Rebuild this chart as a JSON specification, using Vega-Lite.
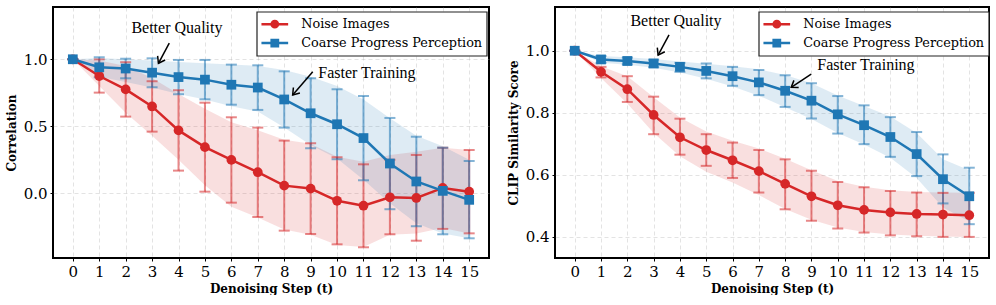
{
  "$schema": "https://vega.github.io/schema/vega-lite/v6.json",
  "padding": {"left": 4, "top": 6, "right": 0, "bottom": 0},
  "background": "white",
  "spacing": 16,
  "datasets": {
    "corr": [
      {"step": 0, "series": "Noise Images", "mean": 1.0, "lo": 1.0, "hi": 1.0, "blo": 1.0, "bhi": 1.0},
      {"step": 1, "series": "Noise Images", "mean": 0.875, "lo": 0.751, "hi": 0.999, "blo": 0.80, "bhi": 0.99},
      {"step": 2, "series": "Noise Images", "mean": 0.775, "lo": 0.572, "hi": 0.978, "blo": 0.60, "bhi": 0.95},
      {"step": 3, "series": "Noise Images", "mean": 0.648, "lo": 0.460, "hi": 0.836, "blo": 0.43, "bhi": 0.86},
      {"step": 4, "series": "Noise Images", "mean": 0.469, "lo": 0.169, "hi": 0.769, "blo": 0.25, "bhi": 0.74},
      {"step": 5, "series": "Noise Images", "mean": 0.344, "lo": 0.012, "hi": 0.676, "blo": 0.06, "bhi": 0.63},
      {"step": 6, "series": "Noise Images", "mean": 0.249, "lo": -0.070, "hi": 0.567, "blo": -0.10, "bhi": 0.53},
      {"step": 7, "series": "Noise Images", "mean": 0.157, "lo": -0.177, "hi": 0.490, "blo": -0.18, "bhi": 0.47},
      {"step": 8, "series": "Noise Images", "mean": 0.057, "lo": -0.279, "hi": 0.393, "blo": -0.27, "bhi": 0.40},
      {"step": 9, "series": "Noise Images", "mean": 0.035, "lo": -0.304, "hi": 0.373, "blo": -0.31, "bhi": 0.37},
      {"step": 10, "series": "Noise Images", "mean": -0.056, "lo": -0.381, "hi": 0.269, "blo": -0.386, "bhi": 0.273},
      {"step": 11, "series": "Noise Images", "mean": -0.093, "lo": -0.403, "hi": 0.216, "blo": -0.40, "bhi": 0.236},
      {"step": 12, "series": "Noise Images", "mean": -0.030, "lo": -0.306, "hi": 0.250, "blo": -0.31, "bhi": 0.286},
      {"step": 13, "series": "Noise Images", "mean": -0.035, "lo": -0.354, "hi": 0.286, "blo": -0.30, "bhi": 0.31},
      {"step": 14, "series": "Noise Images", "mean": 0.040, "lo": -0.266, "hi": 0.340, "blo": -0.26, "bhi": 0.34},
      {"step": 15, "series": "Noise Images", "mean": 0.012, "lo": -0.299, "hi": 0.323, "blo": -0.30, "bhi": 0.323},
      {"step": 0, "series": "Coarse Progress Perception", "mean": 1.0, "lo": 1.0, "hi": 1.0, "blo": 1.0, "bhi": 1.0},
      {"step": 1, "series": "Coarse Progress Perception", "mean": 0.940, "lo": 0.865, "hi": 1.015, "blo": 0.87, "bhi": 1.01},
      {"step": 2, "series": "Coarse Progress Perception", "mean": 0.931, "lo": 0.858, "hi": 1.004, "blo": 0.83, "bhi": 1.00},
      {"step": 3, "series": "Coarse Progress Perception", "mean": 0.900, "lo": 0.791, "hi": 1.007, "blo": 0.79, "bhi": 0.99},
      {"step": 4, "series": "Coarse Progress Perception", "mean": 0.867, "lo": 0.739, "hi": 0.995, "blo": 0.74, "bhi": 0.98},
      {"step": 5, "series": "Coarse Progress Perception", "mean": 0.848, "lo": 0.701, "hi": 0.995, "blo": 0.70, "bhi": 0.97},
      {"step": 6, "series": "Coarse Progress Perception", "mean": 0.810, "lo": 0.661, "hi": 0.960, "blo": 0.65, "bhi": 0.96},
      {"step": 7, "series": "Coarse Progress Perception", "mean": 0.789, "lo": 0.622, "hi": 0.955, "blo": 0.61, "bhi": 0.95},
      {"step": 8, "series": "Coarse Progress Perception", "mean": 0.700, "lo": 0.490, "hi": 0.910, "blo": 0.49, "bhi": 0.92},
      {"step": 9, "series": "Coarse Progress Perception", "mean": 0.597, "lo": 0.336, "hi": 0.858, "blo": 0.36, "bhi": 0.87},
      {"step": 10, "series": "Coarse Progress Perception", "mean": 0.515, "lo": 0.254, "hi": 0.776, "blo": 0.26, "bhi": 0.80},
      {"step": 11, "series": "Coarse Progress Perception", "mean": 0.412, "lo": 0.097, "hi": 0.726, "blo": 0.10, "bhi": 0.70},
      {"step": 12, "series": "Coarse Progress Perception", "mean": 0.222, "lo": -0.119, "hi": 0.562, "blo": -0.075, "bhi": 0.56},
      {"step": 13, "series": "Coarse Progress Perception", "mean": 0.088, "lo": -0.246, "hi": 0.422, "blo": -0.224, "bhi": 0.43},
      {"step": 14, "series": "Coarse Progress Perception", "mean": 0.018, "lo": -0.306, "hi": 0.340, "blo": -0.30, "bhi": 0.35},
      {"step": 15, "series": "Coarse Progress Perception", "mean": -0.049, "lo": -0.336, "hi": 0.241, "blo": -0.336, "bhi": 0.25}
    ],
    "clip": [
      {"step": 0, "series": "Noise Images", "mean": 1.0, "lo": 1.0, "hi": 1.0, "blo": 1.0, "bhi": 1.0},
      {"step": 1, "series": "Noise Images", "mean": 0.932, "lo": 0.914, "hi": 0.948, "blo": 0.912, "bhi": 0.950},
      {"step": 2, "series": "Noise Images", "mean": 0.876, "lo": 0.835, "hi": 0.918, "blo": 0.830, "bhi": 0.918},
      {"step": 3, "series": "Noise Images", "mean": 0.793, "lo": 0.731, "hi": 0.852, "blo": 0.735, "bhi": 0.850},
      {"step": 4, "series": "Noise Images", "mean": 0.721, "lo": 0.665, "hi": 0.781, "blo": 0.660, "bhi": 0.785},
      {"step": 5, "series": "Noise Images", "mean": 0.680, "lo": 0.629, "hi": 0.731, "blo": 0.610, "bhi": 0.740},
      {"step": 6, "series": "Noise Images", "mean": 0.647, "lo": 0.590, "hi": 0.704, "blo": 0.575, "bhi": 0.710},
      {"step": 7, "series": "Noise Images", "mean": 0.612, "lo": 0.543, "hi": 0.680, "blo": 0.535, "bhi": 0.685},
      {"step": 8, "series": "Noise Images", "mean": 0.571, "lo": 0.489, "hi": 0.650, "blo": 0.490, "bhi": 0.652},
      {"step": 9, "series": "Noise Images", "mean": 0.531, "lo": 0.452, "hi": 0.613, "blo": 0.455, "bhi": 0.615},
      {"step": 10, "series": "Noise Images", "mean": 0.502, "lo": 0.427, "hi": 0.577, "blo": 0.430, "bhi": 0.580},
      {"step": 11, "series": "Noise Images", "mean": 0.487, "lo": 0.414, "hi": 0.560, "blo": 0.416, "bhi": 0.562},
      {"step": 12, "series": "Noise Images", "mean": 0.479, "lo": 0.405, "hi": 0.548, "blo": 0.408, "bhi": 0.550},
      {"step": 13, "series": "Noise Images", "mean": 0.474, "lo": 0.402, "hi": 0.543, "blo": 0.404, "bhi": 0.545},
      {"step": 14, "series": "Noise Images", "mean": 0.472, "lo": 0.400, "hi": 0.542, "blo": 0.401, "bhi": 0.543},
      {"step": 15, "series": "Noise Images", "mean": 0.470, "lo": 0.400, "hi": 0.542, "blo": 0.400, "bhi": 0.542},
      {"step": 0, "series": "Coarse Progress Perception", "mean": 1.0, "lo": 1.0, "hi": 1.0, "blo": 1.0, "bhi": 1.0},
      {"step": 1, "series": "Coarse Progress Perception", "mean": 0.972, "lo": 0.961, "hi": 0.983, "blo": 0.961, "bhi": 0.983},
      {"step": 2, "series": "Coarse Progress Perception", "mean": 0.967, "lo": 0.956, "hi": 0.978, "blo": 0.955, "bhi": 0.979},
      {"step": 3, "series": "Coarse Progress Perception", "mean": 0.959, "lo": 0.947, "hi": 0.971, "blo": 0.945, "bhi": 0.973},
      {"step": 4, "series": "Coarse Progress Perception", "mean": 0.948, "lo": 0.932, "hi": 0.961, "blo": 0.930, "bhi": 0.965},
      {"step": 5, "series": "Coarse Progress Perception", "mean": 0.935, "lo": 0.911, "hi": 0.959, "blo": 0.910, "bhi": 0.958},
      {"step": 6, "series": "Coarse Progress Perception", "mean": 0.918, "lo": 0.887, "hi": 0.948, "blo": 0.885, "bhi": 0.950},
      {"step": 7, "series": "Coarse Progress Perception", "mean": 0.898, "lo": 0.857, "hi": 0.938, "blo": 0.855, "bhi": 0.940},
      {"step": 8, "series": "Coarse Progress Perception", "mean": 0.871, "lo": 0.819, "hi": 0.921, "blo": 0.818, "bhi": 0.922},
      {"step": 9, "series": "Coarse Progress Perception", "mean": 0.839, "lo": 0.782, "hi": 0.895, "blo": 0.780, "bhi": 0.895},
      {"step": 10, "series": "Coarse Progress Perception", "mean": 0.795, "lo": 0.733, "hi": 0.854, "blo": 0.735, "bhi": 0.856},
      {"step": 11, "series": "Coarse Progress Perception", "mean": 0.760, "lo": 0.699, "hi": 0.824, "blo": 0.698, "bhi": 0.822},
      {"step": 12, "series": "Coarse Progress Perception", "mean": 0.722, "lo": 0.658, "hi": 0.786, "blo": 0.655, "bhi": 0.788},
      {"step": 13, "series": "Coarse Progress Perception", "mean": 0.667, "lo": 0.596, "hi": 0.738, "blo": 0.590, "bhi": 0.735},
      {"step": 14, "series": "Coarse Progress Perception", "mean": 0.586, "lo": 0.508, "hi": 0.666, "blo": 0.495, "bhi": 0.650},
      {"step": 15, "series": "Coarse Progress Perception", "mean": 0.531, "lo": 0.441, "hi": 0.623, "blo": 0.450, "bhi": 0.615}
    ],
    "ann_corr": [
      {"label": "Better Quality", "tx": 3.94, "ty": 1.23, "x0": 3.65, "y0": 1.12, "x1": 3.24, "y1": 0.97},
      {"label": "Faster Training", "tx": 11.13, "ty": 0.90, "x0": 9.08, "y0": 0.907, "x1": 8.32, "y1": 0.734}
    ],
    "ann_clip": [
      {"label": "Better Quality", "tx": 3.85, "ty": 1.097, "x0": 3.585, "y0": 1.051, "x1": 3.17, "y1": 0.986},
      {"label": "Faster Training", "tx": 11.07, "ty": 0.954, "x0": 8.99, "y0": 0.925, "x1": 8.23, "y1": 0.882}
    ]
  },
  "hconcat": [
    {
      "width": 436,
      "height": 251,
      "layer": [
        {
          "data": {"name": "corr"},
          "mark": {"type": "point", "filled": false, "opacity": 0},
          "encoding": {
            "x": {"field": "step", "type": "quantitative", "scale": {"domain": [-0.75, 15.75], "nice": false, "zero": false},
              "axis": {"title": "Denoising Step (t)", "values": [0,1,2,3,4,5,6,7,8,9,10,11,12,13,14,15], "tickCount": 16, "format": ".0f", "labelOverlap": false, "labelSeparation": 0, "labelFlush": false, "labelAngle": 0,
                "labelFont": "DejaVu Serif", "labelFontSize": 15, "labelColor": "black", "labelPadding": 3,
                "titleFont": "DejaVu Serif", "titleFontSize": 12, "titleFontWeight": "bold", "titleColor": "black", "titlePadding": 4,
                "tickColor": "black", "tickSize": 3, "tickWidth": 1, "domain": false,
                "grid": true, "gridColor": "#b0b0b0", "gridOpacity": 0.45, "gridDash": [4, 3], "gridWidth": 0.8}},
            "y": {"field": "mean", "type": "quantitative", "scale": {"domain": [-0.483, 1.39], "nice": false, "zero": false},
              "axis": {"title": "Correlation", "values": [0, 0.5, 1.0], "format": ".1f", "labelOverlap": false,
                "labelFont": "DejaVu Serif", "labelFontSize": 15, "labelColor": "black", "labelPadding": 3,
                "titleFont": "DejaVu Serif", "titleFontSize": 12, "titleFontWeight": "bold", "titleColor": "black", "titlePadding": 6.5, "titleBaseline": "alphabetic",
                "minExtent": 31, "maxExtent": 31,
                "tickColor": "black", "tickSize": 3, "tickWidth": 1, "domain": false,
                "grid": true, "gridColor": "#b0b0b0", "gridOpacity": 0.45, "gridDash": [4, 3], "gridWidth": 0.8}},
            "color": {"field": "series", "type": "nominal", "scale": {"domain": ["Noise Images", "Coarse Progress Perception"], "range": ["#d62728", "#1f77b4"]},
              "legend": {"orient": "none", "legendX": 203.7, "legendY": 4.7, "title": null,
                "labelFont": "DejaVu Serif", "labelFontSize": 12.8, "labelColor": "black", "labelLimit": 400,
                "strokeColor": "#222222", "fillColor": "white", "padding": 4,
                "symbolSize": 196, "symbolOffset": 5.6, "labelOffset": 18, "rowPadding": 1.9,
                "symbolOpacity": 1, "symbolStrokeWidth": 2.5, "cornerRadius": 0}},
            "shape": {"field": "series", "type": "nominal",
              "scale": {"domain": ["Noise Images", "Coarse Progress Perception"],
                "range": ["M-1.907,0L1.907,0M0.45,0A0.45,0.45,0,1,1,-0.45,0A0.45,0.45,0,1,1,0.45,0ZM0.18,0A0.18,0.18,0,1,1,-0.18,0A0.18,0.18,0,1,1,0.18,0Z",
                          "M-1.907,0L1.907,0M-0.45,-0.45L0.45,-0.45L0.45,0.45L-0.45,0.45ZM-0.18,-0.18L0.18,-0.18L0.18,0.18L-0.18,0.18Z"]},
              "legend": {"orient": "none", "legendX": 203.7, "legendY": 4.7, "title": null,
                "labelFont": "DejaVu Serif", "labelFontSize": 12.8, "labelColor": "black", "labelLimit": 400,
                "strokeColor": "#222222", "fillColor": "white", "padding": 4,
                "symbolSize": 196, "symbolOffset": 5.6, "labelOffset": 18, "rowPadding": 1.9,
                "symbolOpacity": 1, "symbolStrokeWidth": 2.5, "cornerRadius": 0}}
          }
        },
        {
          "data": {"name": "corr"},
          "mark": {"type": "area", "opacity": 0.15},
          "encoding": {
            "x": {"field": "step", "type": "quantitative"},
            "y": {"field": "blo", "type": "quantitative"},
            "y2": {"field": "bhi"},
            "color": {"field": "series", "type": "nominal"}
          }
        },
        {
          "data": {"name": "corr"},
          "mark": {"type": "rule", "opacity": 0.55, "strokeWidth": 2},
          "encoding": {
            "x": {"field": "step", "type": "quantitative"},
            "y": {"field": "lo", "type": "quantitative"},
            "y2": {"field": "hi"},
            "color": {"field": "series", "type": "nominal"}
          }
        },
        {
          "data": {"name": "corr"},
          "mark": {"type": "tick", "orient": "horizontal", "size": 11, "thickness": 2, "opacity": 0.55},
          "encoding": {
            "x": {"field": "step", "type": "quantitative"},
            "y": {"field": "lo", "type": "quantitative"},
            "color": {"field": "series", "type": "nominal"}
          }
        },
        {
          "data": {"name": "corr"},
          "mark": {"type": "tick", "orient": "horizontal", "size": 11, "thickness": 2, "opacity": 0.55},
          "encoding": {
            "x": {"field": "step", "type": "quantitative"},
            "y": {"field": "hi", "type": "quantitative"},
            "color": {"field": "series", "type": "nominal"}
          }
        },
        {
          "data": {"name": "corr"},
          "mark": {"type": "line", "strokeWidth": 2.5},
          "encoding": {
            "x": {"field": "step", "type": "quantitative"},
            "y": {"field": "mean", "type": "quantitative"},
            "color": {"field": "series", "type": "nominal"}
          }
        },
        {
          "data": {"name": "corr"},
          "transform": [{"filter": "datum.series === 'Noise Images'"}],
          "mark": {"type": "point", "shape": "circle", "filled": true, "opacity": 1, "size": 95},
          "encoding": {
            "x": {"field": "step", "type": "quantitative"},
            "y": {"field": "mean", "type": "quantitative"},
            "color": {"field": "series", "type": "nominal"}
          }
        },
        {
          "data": {"name": "corr"},
          "transform": [{"filter": "datum.series === 'Coarse Progress Perception'"}],
          "mark": {"type": "point", "shape": "square", "filled": true, "opacity": 1, "size": 95},
          "encoding": {
            "x": {"field": "step", "type": "quantitative"},
            "y": {"field": "mean", "type": "quantitative"},
            "color": {"field": "series", "type": "nominal"}
          }
        },
        {
          "data": {"name": "ann_corr"},
          "mark": {"type": "rule", "color": "black", "strokeWidth": 1.5},
          "encoding": {
            "x": {"field": "x0", "type": "quantitative"},
            "y": {"field": "y0", "type": "quantitative"},
            "x2": {"field": "x1"},
            "y2": {"field": "y1"}
          }
        },
        {
          "data": {"name": "ann_corr"},
          "transform": [{"filter": "datum.label === 'Better Quality'"}],
          "mark": {"type": "point", "shape": "M-1,-0.7L0,0L-1,0.7", "filled": false, "stroke": "black", "strokeWidth": 1.5, "size": 150, "angle": 118.8, "opacity": 1},
          "encoding": {
            "x": {"field": "x1", "type": "quantitative"},
            "y": {"field": "y1", "type": "quantitative"}
          }
        },
        {
          "data": {"name": "ann_corr"},
          "transform": [{"filter": "datum.label === 'Faster Training'"}],
          "mark": {"type": "point", "shape": "M-1,-0.7L0,0L-1,0.7", "filled": false, "stroke": "black", "strokeWidth": 1.5, "size": 150, "angle": 130.6, "opacity": 1},
          "encoding": {
            "x": {"field": "x1", "type": "quantitative"},
            "y": {"field": "y1", "type": "quantitative"}
          }
        },
        {
          "data": {"name": "ann_corr"},
          "mark": {"type": "text", "font": "Liberation Serif", "fontSize": 16, "align": "center", "baseline": "middle", "color": "black"},
          "encoding": {
            "x": {"field": "tx", "type": "quantitative"},
            "y": {"field": "ty", "type": "quantitative"},
            "text": {"field": "label"}
          }
        }
      ]
    },
    {
      "width": 434,
      "height": 251,
      "layer": [
        {
          "data": {"name": "clip"},
          "mark": {"type": "point", "filled": false, "opacity": 0},
          "encoding": {
            "x": {"field": "step", "type": "quantitative", "scale": {"domain": [-0.75, 15.75], "nice": false, "zero": false},
              "axis": {"title": "Denoising Step (t)", "values": [0,1,2,3,4,5,6,7,8,9,10,11,12,13,14,15], "tickCount": 16, "format": ".0f", "labelOverlap": false, "labelSeparation": 0, "labelFlush": false, "labelAngle": 0,
                "labelFont": "DejaVu Serif", "labelFontSize": 15, "labelColor": "black", "labelPadding": 3,
                "titleFont": "DejaVu Serif", "titleFontSize": 12, "titleFontWeight": "bold", "titleColor": "black", "titlePadding": 4,
                "tickColor": "black", "tickSize": 3, "tickWidth": 1, "domain": false,
                "grid": true, "gridColor": "#b0b0b0", "gridOpacity": 0.45, "gridDash": [4, 3], "gridWidth": 0.8}},
            "y": {"field": "mean", "type": "quantitative", "scale": {"domain": [0.332, 1.141], "nice": false, "zero": false},
              "axis": {"title": "CLIP Similarity Score", "values": [0.4, 0.6, 0.8, 1.0], "format": ".1f", "labelOverlap": false,
                "labelFont": "DejaVu Serif", "labelFontSize": 15, "labelColor": "black", "labelPadding": 3,
                "titleFont": "DejaVu Serif", "titleFontSize": 12, "titleFontWeight": "bold", "titleColor": "black", "titlePadding": 6.5, "titleBaseline": "alphabetic",
                "minExtent": 31, "maxExtent": 31,
                "tickColor": "black", "tickSize": 3, "tickWidth": 1, "domain": false,
                "grid": true, "gridColor": "#b0b0b0", "gridOpacity": 0.45, "gridDash": [4, 3], "gridWidth": 0.8}},
            "color": {"field": "series", "type": "nominal", "scale": {"domain": ["Noise Images", "Coarse Progress Perception"], "range": ["#d62728", "#1f77b4"]},
              "legend": {"orient": "none", "legendX": 203.7, "legendY": 4.7, "title": null,
                "labelFont": "DejaVu Serif", "labelFontSize": 12.8, "labelColor": "black", "labelLimit": 400,
                "strokeColor": "#222222", "fillColor": "white", "padding": 4,
                "symbolSize": 196, "symbolOffset": 5.6, "labelOffset": 18, "rowPadding": 1.9,
                "symbolOpacity": 1, "symbolStrokeWidth": 2.5, "cornerRadius": 0}},
            "shape": {"field": "series", "type": "nominal",
              "scale": {"domain": ["Noise Images", "Coarse Progress Perception"],
                "range": ["M-1.907,0L1.907,0M0.45,0A0.45,0.45,0,1,1,-0.45,0A0.45,0.45,0,1,1,0.45,0ZM0.18,0A0.18,0.18,0,1,1,-0.18,0A0.18,0.18,0,1,1,0.18,0Z",
                          "M-1.907,0L1.907,0M-0.45,-0.45L0.45,-0.45L0.45,0.45L-0.45,0.45ZM-0.18,-0.18L0.18,-0.18L0.18,0.18L-0.18,0.18Z"]},
              "legend": {"orient": "none", "legendX": 203.7, "legendY": 4.7, "title": null,
                "labelFont": "DejaVu Serif", "labelFontSize": 12.8, "labelColor": "black", "labelLimit": 400,
                "strokeColor": "#222222", "fillColor": "white", "padding": 4,
                "symbolSize": 196, "symbolOffset": 5.6, "labelOffset": 18, "rowPadding": 1.9,
                "symbolOpacity": 1, "symbolStrokeWidth": 2.5, "cornerRadius": 0}}
          }
        },
        {
          "data": {"name": "clip"},
          "mark": {"type": "area", "opacity": 0.15},
          "encoding": {
            "x": {"field": "step", "type": "quantitative"},
            "y": {"field": "blo", "type": "quantitative"},
            "y2": {"field": "bhi"},
            "color": {"field": "series", "type": "nominal"}
          }
        },
        {
          "data": {"name": "clip"},
          "mark": {"type": "rule", "opacity": 0.55, "strokeWidth": 2},
          "encoding": {
            "x": {"field": "step", "type": "quantitative"},
            "y": {"field": "lo", "type": "quantitative"},
            "y2": {"field": "hi"},
            "color": {"field": "series", "type": "nominal"}
          }
        },
        {
          "data": {"name": "clip"},
          "mark": {"type": "tick", "orient": "horizontal", "size": 11, "thickness": 2, "opacity": 0.55},
          "encoding": {
            "x": {"field": "step", "type": "quantitative"},
            "y": {"field": "lo", "type": "quantitative"},
            "color": {"field": "series", "type": "nominal"}
          }
        },
        {
          "data": {"name": "clip"},
          "mark": {"type": "tick", "orient": "horizontal", "size": 11, "thickness": 2, "opacity": 0.55},
          "encoding": {
            "x": {"field": "step", "type": "quantitative"},
            "y": {"field": "hi", "type": "quantitative"},
            "color": {"field": "series", "type": "nominal"}
          }
        },
        {
          "data": {"name": "clip"},
          "mark": {"type": "line", "strokeWidth": 2.5},
          "encoding": {
            "x": {"field": "step", "type": "quantitative"},
            "y": {"field": "mean", "type": "quantitative"},
            "color": {"field": "series", "type": "nominal"}
          }
        },
        {
          "data": {"name": "clip"},
          "transform": [{"filter": "datum.series === 'Noise Images'"}],
          "mark": {"type": "point", "shape": "circle", "filled": true, "opacity": 1, "size": 95},
          "encoding": {
            "x": {"field": "step", "type": "quantitative"},
            "y": {"field": "mean", "type": "quantitative"},
            "color": {"field": "series", "type": "nominal"}
          }
        },
        {
          "data": {"name": "clip"},
          "transform": [{"filter": "datum.series === 'Coarse Progress Perception'"}],
          "mark": {"type": "point", "shape": "square", "filled": true, "opacity": 1, "size": 95},
          "encoding": {
            "x": {"field": "step", "type": "quantitative"},
            "y": {"field": "mean", "type": "quantitative"},
            "color": {"field": "series", "type": "nominal"}
          }
        },
        {
          "data": {"name": "ann_clip"},
          "mark": {"type": "rule", "color": "black", "strokeWidth": 1.5},
          "encoding": {
            "x": {"field": "x0", "type": "quantitative"},
            "y": {"field": "y0", "type": "quantitative"},
            "x2": {"field": "x1"},
            "y2": {"field": "y1"}
          }
        },
        {
          "data": {"name": "ann_clip"},
          "transform": [{"filter": "datum.label === 'Better Quality'"}],
          "mark": {"type": "point", "shape": "M-1,-0.7L0,0L-1,0.7", "filled": false, "stroke": "black", "strokeWidth": 1.5, "size": 150, "angle": 118.8, "opacity": 1},
          "encoding": {
            "x": {"field": "x1", "type": "quantitative"},
            "y": {"field": "y1", "type": "quantitative"}
          }
        },
        {
          "data": {"name": "ann_clip"},
          "transform": [{"filter": "datum.label === 'Faster Training'"}],
          "mark": {"type": "point", "shape": "M-1,-0.7L0,0L-1,0.7", "filled": false, "stroke": "black", "strokeWidth": 1.5, "size": 150, "angle": 146.4, "opacity": 1},
          "encoding": {
            "x": {"field": "x1", "type": "quantitative"},
            "y": {"field": "y1", "type": "quantitative"}
          }
        },
        {
          "data": {"name": "ann_clip"},
          "mark": {"type": "text", "font": "Liberation Serif", "fontSize": 16, "align": "center", "baseline": "middle", "color": "black"},
          "encoding": {
            "x": {"field": "tx", "type": "quantitative"},
            "y": {"field": "ty", "type": "quantitative"},
            "text": {"field": "label"}
          }
        }
      ]
    }
  ],
  "resolve": {"scale": {"color": "independent", "shape": "independent", "x": "independent", "y": "independent"}, "legend": {"color": "independent", "shape": "independent"}},
  "config": {
    "view": {"stroke": "black", "strokeWidth": 2},
    "axis": {"labelFont": "DejaVu Serif", "labelFontSize": 15, "titleFont": "DejaVu Serif", "titleFontSize": 12},
    "axisX": {"labelOverlap": false, "labelFontSize": 15},
    "legend": {"strokeWidth": 1.2}
  }
}
